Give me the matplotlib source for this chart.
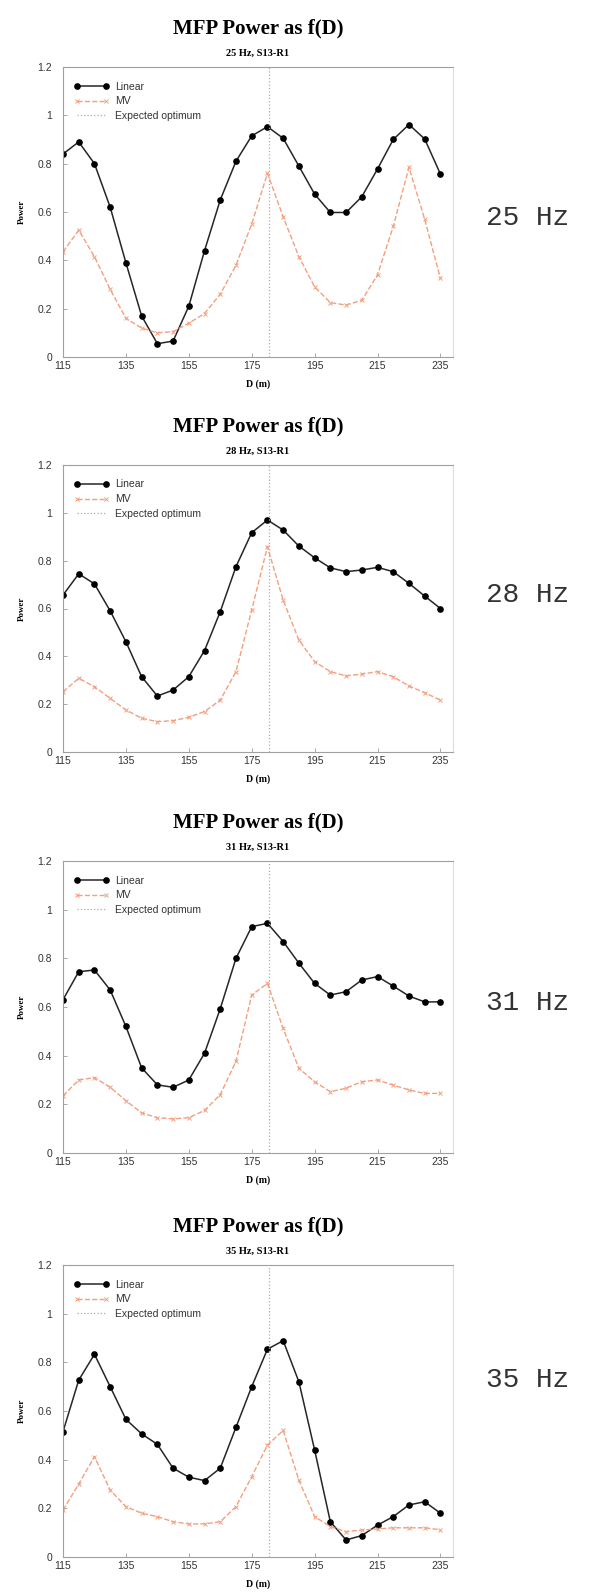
import matplotlib
matplotlib.use("Agg")
import matplotlib.pyplot as plt
import numpy as np

# distance grid (m)
D = np.arange(115, 240, 5)
d_opt = 180.6

freqs = ["25 Hz", "28 Hz", "31 Hz", "35 Hz"]
subtitles = ["25 Hz, S13-R1", "28 Hz, S13-R1", "31 Hz, S13-R1", "35 Hz, S13-R1"]

lin_25 = [0.84, 0.89, 0.80, 0.62, 0.39, 0.17, 0.055, 0.066, 0.21, 0.44, 0.65, 0.81, 0.915,
          0.953, 0.905, 0.79, 0.674, 0.598, 0.598, 0.663, 0.778, 0.90, 0.962, 0.902, 0.757]
mv_25 = [0.435, 0.525, 0.415, 0.28, 0.16, 0.12, 0.10, 0.105, 0.14, 0.18, 0.26, 0.38, 0.55,
         0.76, 0.58, 0.415, 0.29, 0.225, 0.215, 0.235, 0.34, 0.54, 0.785, 0.57, 0.325]

lin_28 = [0.656, 0.745, 0.703, 0.59, 0.461, 0.315, 0.234, 0.259, 0.315, 0.424, 0.587, 0.775, 0.917,
          0.97, 0.928, 0.861, 0.812, 0.77, 0.754, 0.761, 0.772, 0.754, 0.705, 0.652, 0.60]
mv_28 = [0.252, 0.308, 0.273, 0.224, 0.176, 0.141, 0.127, 0.131, 0.145, 0.169, 0.217, 0.336, 0.594,
         0.858, 0.635, 0.468, 0.378, 0.336, 0.318, 0.326, 0.336, 0.315, 0.276, 0.248, 0.217]

lin_31 = [0.63, 0.745, 0.752, 0.67, 0.52, 0.35, 0.28, 0.27, 0.30, 0.41, 0.593, 0.80, 0.93,
          0.944, 0.869, 0.78, 0.697, 0.649, 0.663, 0.711, 0.725, 0.686, 0.645, 0.621, 0.621]
mv_31 = [0.235, 0.30, 0.31, 0.27, 0.215, 0.165, 0.145, 0.14, 0.145, 0.175, 0.24, 0.377, 0.649,
         0.697, 0.512, 0.348, 0.293, 0.252, 0.266, 0.293, 0.30, 0.279, 0.259, 0.245, 0.245]

lin_35 = [0.515, 0.727, 0.833, 0.70, 0.566, 0.506, 0.463, 0.365, 0.328, 0.314, 0.365, 0.533, 0.70,
          0.854, 0.889, 0.72, 0.44, 0.145, 0.07, 0.088, 0.131, 0.166, 0.214, 0.227, 0.18]
mv_35 = [0.193, 0.30, 0.412, 0.275, 0.207, 0.18, 0.166, 0.145, 0.136, 0.136, 0.145, 0.207, 0.33,
         0.46, 0.52, 0.316, 0.166, 0.125, 0.104, 0.111, 0.115, 0.12, 0.12, 0.12, 0.112]

linear = [lin_25, lin_28, lin_31, lin_35]
mv = [mv_25, mv_28, mv_31, mv_35]

W, H = 589, 1595
fig = plt.figure(figsize=(W / 100, H / 100), dpi=100)

# axes boxes in pixels (top, bottom) from the top of the figure
boxes = [(67, 357), (465, 752), (861, 1153), (1265, 1557)]
left_px, right_px = 63, 453

for i, (top, bot) in enumerate(boxes):
    ax = fig.add_axes([left_px / W, 1 - bot / H, (right_px - left_px) / W, (bot - top) / H])
    ax.plot(D, linear[i], color="#262626", lw=1.1, marker="o", ms=3.8,
            mfc="black", mec="black", label="Linear")
    ax.plot(D, mv[i], color="#f2a080", lw=1.0, ls="--", marker="x", ms=2.6,
            mew=0.7, label="MV")
    ax.axvline(d_opt, color="#b8a8a8", lw=0.9, ls=":", label="Expected optimum")

    ax.set_xlim(115, 239)
    ax.set_ylim(0, 1.2)
    ax.set_xticks([115, 135, 155, 175, 195, 215, 235])
    ax.set_yticks([0, 0.2, 0.4, 0.6, 0.8, 1.0, 1.2])
    ax.set_yticklabels(["0", "0.2", "0.4", "0.6", "0.8", "1", "1.2"])
    ax.tick_params(direction="in", length=3, width=0.6, color="#999999",
                   labelsize=7.5)
    ax.tick_params(axis="y", pad=8)
    ax.tick_params(axis="x", pad=3)
    for lab in ax.get_xticklabels() + ax.get_yticklabels():
        lab.set_family("Liberation Sans")
        lab.set_color("#333333")
    for sp in ax.spines.values():
        sp.set_color("#a0a0a0")
        sp.set_linewidth(0.8)
    ax.spines["right"].set_color("#dddddd")

    ax.set_xlabel("D (m)", fontsize=7, family="Liberation Serif",
                  fontweight="bold", labelpad=6)
    ax.set_ylabel("Power", fontsize=6.5, family="Liberation Serif",
                  fontweight="bold", labelpad=8)

    ax.annotate("MFP Power as f(D)", xy=(0.5, 1), xycoords="axes fraction",
                xytext=(0, 28), textcoords="offset points", ha="center", va="center",
                fontsize=15, family="Liberation Serif", fontweight="bold")
    ax.annotate(subtitles[i], xy=(0.5, 1), xycoords="axes fraction",
                xytext=(0, 10), textcoords="offset points", ha="center", va="center",
                fontsize=7.5, family="Liberation Serif", fontweight="bold")

    leg = ax.legend(loc="upper left", bbox_to_anchor=(0.01, 0.975), frameon=False,
                    fontsize=7.5, numpoints=2, handlelength=3.4, handletextpad=0.5,
                    labelspacing=0.45, borderaxespad=0.3)
    for t in leg.get_texts():
        t.set_family("Liberation Sans")
        t.set_color("#333333")

# frequency labels on the right
hz_y = [218, 595, 1003, 1380]
for lab, y in zip(freqs, hz_y):
    fig.text(528 / W, 1 - y / H, lab, ha="center", va="center", fontsize=20,
             family=["Liberation Mono", "DejaVu Sans Mono"], color="#333333")

fig.savefig("out.png", dpi=100, facecolor="white")
